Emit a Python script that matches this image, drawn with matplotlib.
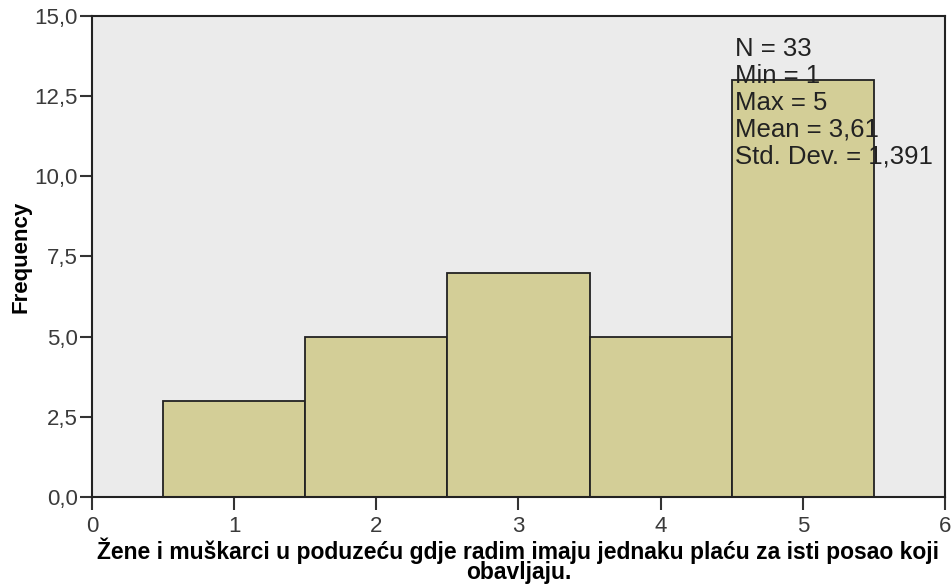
import matplotlib
matplotlib.use("Agg")
import matplotlib.pyplot as plt
from matplotlib.ticker import FuncFormatter

categories = [1, 2, 3, 4, 5]
frequencies = [3, 5, 7, 5, 13]
stats_lines = ["N = 33", "Min = 1", "Max = 5", "Mean = 3,61", "Std. Dev. = 1,391"]
xlabel = "Žene i muškarci u poduzeću gdje radim imaju jednaku plaću za isti posao koji\nobavljaju."
ylabel = "Frequency"

plt.rcParams['font.family'] = ['Liberation Sans', 'DejaVu Sans']

fig = plt.figure(figsize=(9.53, 5.88), dpi=100)
ax = fig.add_axes([0.0965, 0.1548, 0.8951, 0.818])
ax.set_facecolor('#ebebeb')
ax.bar(categories, frequencies, width=1.0, color='#d3ce97', edgecolor='#222222', linewidth=1.3, zorder=2)

ax.set_xlim(0, 6)
ax.set_ylim(0, 15)
ax.set_xticks(range(0, 7))
ax.set_yticks([0, 2.5, 5, 7.5, 10, 12.5, 15])
ax.yaxis.set_major_formatter(FuncFormatter(lambda v, p: f"{v:.1f}".replace('.', ',')))
ax.tick_params(axis='both', direction='out', length=9, width=1.5, color='#333333',
               labelsize=16, labelcolor='#3a3a3a')
ax.tick_params(axis='x', pad=5)
ax.tick_params(axis='y', pad=1)
for side in ['left', 'bottom', 'top', 'right']:
    ax.spines[side].set_linewidth(1.5)
    ax.spines[side].set_color('#222222')

ax.set_xlabel(xlabel, fontsize=16.5, fontweight='bold', labelpad=0, linespacing=0.82)
ax.set_ylabel(ylabel, fontsize=16, fontweight='bold', labelpad=2)

ax.text(4.52, 14.35, "\n".join(stats_lines), fontsize=18.5, color='#222222',
        va='top', ha='left', linespacing=1.15, zorder=3)

fig.savefig("out.png", dpi=100)
